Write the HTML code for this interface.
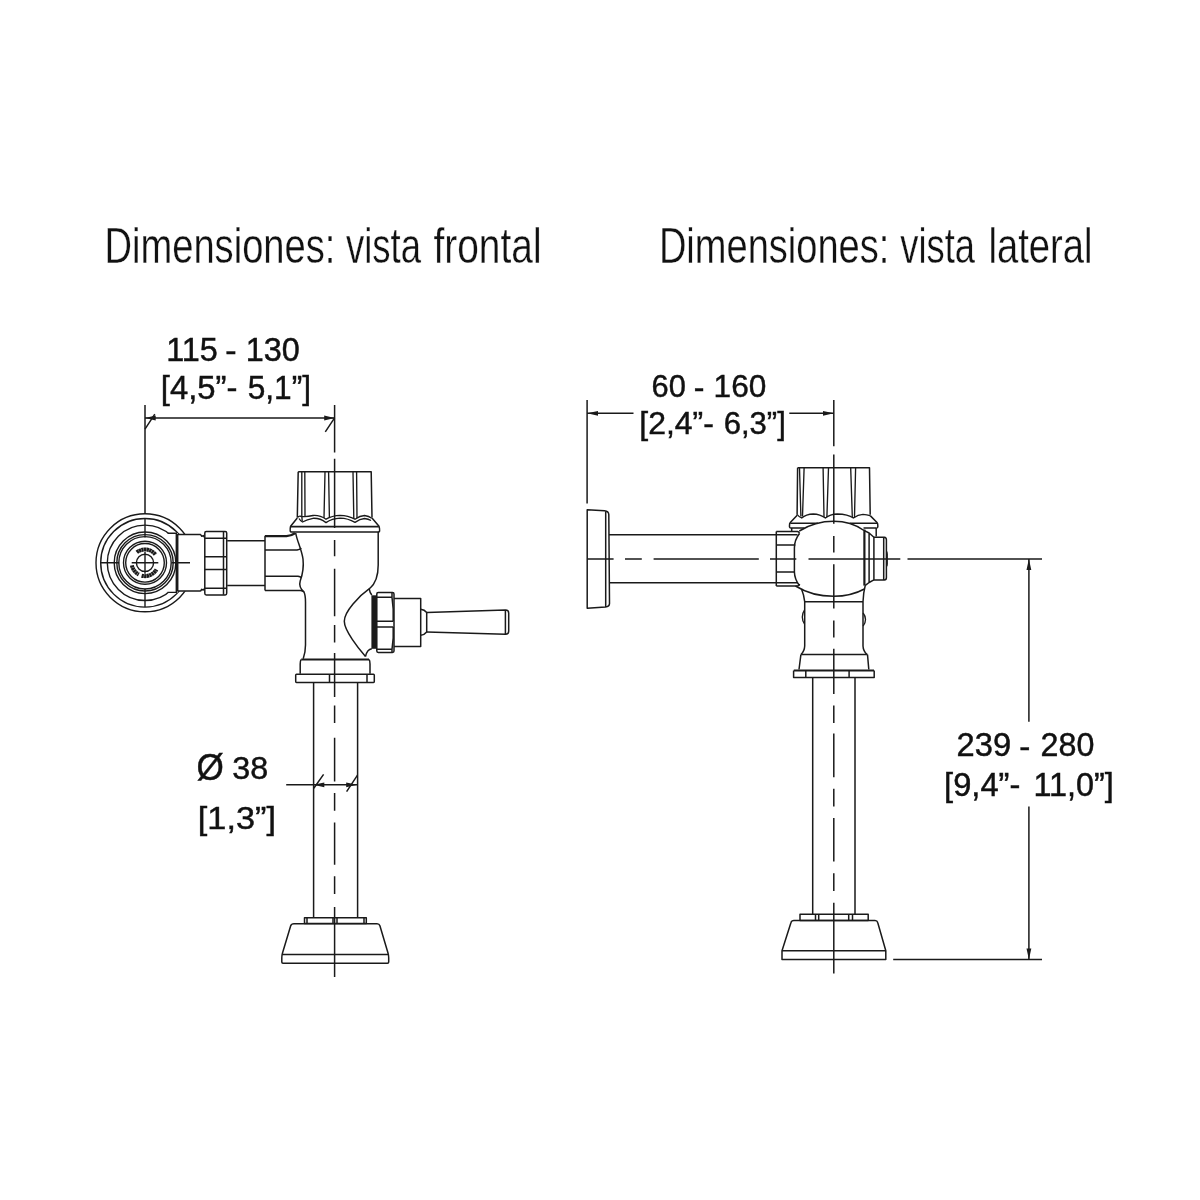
<!DOCTYPE html>
<html lang="es">
<head>
<meta charset="utf-8">
<title>Dimensiones: vista frontal y lateral</title>
<style>
html,body{margin:0;padding:0;background:#fff;}
body{width:1200px;height:1200px;overflow:hidden;font-family:"Liberation Sans",sans-serif;}
svg{display:block;position:absolute;left:0;top:0;will-change:transform;}
.t{font-family:"Liberation Sans",sans-serif;fill:#111;stroke:#fff;stroke-width:0.35px;}
.d{font-family:"Liberation Sans",sans-serif;fill:#111;stroke:#111;stroke-width:0.45px;}
.l{fill:none;stroke:#1a1a1a;stroke-width:1.5;stroke-linecap:butt;stroke-linejoin:round;}
.w{fill:#fff;stroke:#1a1a1a;stroke-width:1.5;stroke-linejoin:round;}
.k{fill:#1a1a1a;stroke:none;}
.c{fill:none;stroke:#1a1a1a;stroke-width:1.4;}
</style>
</head>
<body>
<svg width="1200" height="1200" viewBox="0 0 1200 1200">
<rect x="0" y="0" width="1200" height="1200" fill="#ffffff"/>

<!-- TITLES -->
<g id="titles">
<g><text class="t" font-size="50.4" transform="translate(104.47 263.00) scale(0.7565 1)">Dimensiones: </text><text class="t" font-size="50.4" transform="translate(345.89 263.00) scale(0.7247 1)">vista </text><text class="t" font-size="50.4" transform="translate(433.46 263.00) scale(0.7720 1)">frontal</text></g>
<g><text class="t" font-size="50.4" transform="translate(658.88 263.00) scale(0.7552 1)">Dimensiones: </text><text class="t" font-size="50.4" transform="translate(900.29 263.00) scale(0.7208 1)">vista </text><text class="t" font-size="50.4" transform="translate(988.44 263.00) scale(0.7584 1)">lateral</text></g>
<g><text class="d" font-size="32.4" transform="translate(166.17 360.75) scale(1.0000 1)">115 </text><text class="d" font-size="32.4" transform="translate(225.13 361.50) scale(1.0519 1)">- </text><text class="d" font-size="32.4" transform="translate(245.71 360.75) scale(1.0000 1)">130</text></g>
<g><text class="d" font-size="32.4" transform="translate(160.79 398.75) scale(1.0140 1)">[4,5”- </text><text class="d" font-size="32.4" transform="translate(247.71 398.75) scale(0.9765 1)">5,1”]</text></g>
<g><text class="d" font-size="31.6" transform="translate(651.57 396.70) scale(0.9760 1)">60 </text><text class="d" font-size="31.6" transform="translate(693.82 398.10) scale(1.0139 1)">- </text><text class="d" font-size="31.6" transform="translate(713.57 396.70) scale(1.0000 1)">160</text></g>
<g><text class="d" font-size="31.6" transform="translate(639.25 433.70) scale(1.0118 1)">[2,4”- </text><text class="d" font-size="31.6" transform="translate(723.65 433.70) scale(0.9841 1)">6,3”]</text></g>
<g><text class="d" font-size="32.4" transform="translate(956.59 756.10) scale(1.0085 1)">239 </text><text class="d" font-size="32.4" transform="translate(1019.36 758.10) scale(1.0267 1)">- </text><text class="d" font-size="32.4" transform="translate(1040.61 756.10) scale(0.9953 1)">280</text></g>
<g><text class="d" font-size="32.4" transform="translate(944.11 795.50) scale(1.0077 1)">[9,4”- </text><text class="d" font-size="32.4" transform="translate(1033.43 795.50) scale(1.0000 1)">11,0”]</text></g>
<g><text class="d" font-size="37.3" transform="translate(196.51 779.50) scale(0.9421 1)">Ø </text><text class="d" font-size="32.1" transform="translate(232.30 778.90) scale(1.0077 1)">38</text></g>
<g><text class="d" font-size="32.1" transform="translate(197.79 828.75) scale(1.0685 1)">[1,3”]</text></g>
</g><!--endtext-->


<!-- FRONT VIEW -->
<g id="front">
<!-- stop valve rings (behind) -->
<circle class="c" cx="145" cy="562.8" r="49"/>
<circle class="c" cx="145" cy="562.8" r="44.3"/>
<circle class="c" cx="145" cy="562.8" r="37.7"/>
<path d="M167.6 533.3H178V592.4H167.6Z" fill="#fff"/>
<path class="c" d="M167.6 533.3H176.3V592.4H167.6"/>
<path d="M177.7 534.5H204.5V591.2H177.7Z" fill="#fff"/>
<path class="l" d="M200.6 534.6L201.8 536.3L203.2 535.6L204.7 537.4M200.6 591L201.8 589.3L203.2 590L204.7 588.4M200.8 534.6H177.7V591H200.8"/>
<circle class="c" cx="145" cy="562.8" r="30.8"/>
<circle class="c" cx="145" cy="562.8" r="28.2"/>
<circle class="c" cx="145" cy="562.8" r="26.2"/>
<circle class="c" cx="145" cy="562.8" r="21.5"/>
<circle class="c" cx="145" cy="562.8" r="19.3"/>
<circle class="c" cx="145" cy="562.8" r="8.6"/>
<path d="M136.8 552.3A13.3 13.3 0 0 1 155.5 554.6" fill="none" stroke="#1a1a1a" stroke-width="4" stroke-dasharray="2.3 0.3"/>
<path d="M131.9 565.3A13.3 13.3 0 0 0 138.8 574.5M141.6 575.7A13.3 13.3 0 0 0 156.5 569.5" fill="none" stroke="#1a1a1a" stroke-width="4" stroke-dasharray="2.3 0.3"/>
<path class="c" d="M145 518.8V537.5M145 552V573.7M145 588.7V607M100.8 562.8H119.2M131.7 562.8H158.3M171.7 562.8H190"/>
<!-- nut on supply -->
<path class="w" d="M206.2 531.4H225.2Q226.7 531.4 226.7 533V593.3Q226.7 594.9 225.2 594.9H206.2Q204.8 594.9 204.8 593.3V533Q204.8 531.4 206.2 531.4Z"/>
<path class="l" d="M204.8 538.3H226.7M204.8 556.8H226.7M204.8 569.5H226.7M204.8 588.3H226.7M223.5 531.6V594.7"/>
<!-- supply pipe -->
<path class="l" d="M227.2 540.8H265M227.2 585.5H265"/>
<!-- inlet boss -->
<path class="l" d="M265 535.7V590.5M265 590.5H300.5Q302.5 590.8 304 592"/>
<path class="l" style="stroke-width:2.4" d="M265 536.1H286.5Q291 535.8 295 533.2"/>
<path class="l" d="M265 550.1H297Q299.8 549.7 301.3 548M265 576.3H298Q300.2 576.6 301.5 577.8"/>
<!-- cap -->
<path class="l" d="M298.2 471.8H371.2L372 517.5M298.2 471.8L297.3 517.5"/>
<path class="l" style="stroke-width:1.35" d="M301.8 472V515.5L302.2 521M304.8 472L305 516M325 472L324 518M328.6 472L329.4 518M353 472L353.8 518.5M356.6 472L357 518"/>
<path class="l" style="stroke-width:1.35" d="M297.5 517.5Q299 515.5 301.5 516.5Q307 517 313 515.5Q320 515 326 519.2Q332 515.6 340 515.3Q348 515.3 355 519.2Q360 515.8 364.5 515.5Q369 516 371.8 518.2"/>
<path class="l" style="stroke-width:1.35" d="M299 518.5Q300.5 521 302.5 522Q307 519.5 313 518.3Q320 518 326 522.6Q332 518.4 340 518.1Q348 518.2 355 522.4Q360 518.8 364.5 518.5Q368.5 519 371 520.5"/>
<!-- collar -->
<path class="l" d="M297.3 518L290.6 526.3Q290 528.5 290.2 531Q290.4 532 291.5 532H378.2Q379.4 532 379.6 531Q379.8 528.5 379 526.3L372 518"/>
<path class="l" style="stroke-width:1.9" d="M290.8 526.6H378.8"/>
<!-- body -->
<path class="l" d="M295.7 533C297 541 301.5 549 303 559C304 568 302 576 300.2 581C299 585 300 588.5 304 592C305.3 595 305.5 598 305.5 602V645C305.5 651 304.5 655 303.2 658.7"/>
<path class="l" d="M378.2 532V565C378.2 574 376 583 370 588.2"/>
<path class="l" d="M370 588.2C359 596 344.3 611.5 344.3 621.2C344.3 630.5 358.5 648.5 365.5 656.5"/>
<path class="l" d="M369.2 588.8Q369.8 592.5 371.8 595M371.8 648.8Q367 649.5 365.5 656.5"/>
<!-- lower flange -->
<path class="l" style="stroke-width:2" d="M301.2 659.6H369"/>
<path class="l" d="M301 659.5Q300.2 661 300.2 664V673.8M369.2 659.5Q370 661 370 664V673.8"/>
<path class="l" d="M296.5 674.3H373.5Q374.3 674.3 374.3 675.2V681.6Q374.3 682.4 373.5 682.4H296.5Q295.7 682.4 295.7 681.6V675.2Q295.7 674.3 296.5 674.3ZM329.5 674.5V682.3M367 674.5V682.3"/>
<!-- pipe -->
<path class="l" d="M313.6 682.4V917.7M357.6 682.4V917.7"/>
<!-- bottom nut + base -->
<path class="l" d="M304.5 917.7H366.3V923.6H304.5ZM307 917.7V923.6M333 917.7V923.6M337 917.7V923.6M364 917.7V923.6"/>
<path class="l" d="M294 923.8H377Q379.3 923.8 379.9 925.8L388 953Q388.7 955.5 388.7 958V962Q388.7 963.2 387.5 963.2H283Q281.8 963.2 281.8 962V958Q281.8 955.5 282.5 953L290.7 925.8Q291.3 923.8 294 923.8ZM282.3 954.6H388.2"/>
<!-- handle -->
<path class="k" d="M371.4 595.3H376.8V648.8H371.4Z"/>
<path class="l" d="M378.2 592.4H392.5Q394 592.4 394 594V651Q394 652.4 392.5 652.4H378.2Q376.8 652.4 376.8 651V594Q376.8 592.4 378.2 592.4Z"/>
<path class="l" d="M376.8 597.3H392M376.8 621.3H393.2M376.8 627H393.2M376.8 649.3H392M392 597.3Q393.8 609 393.2 621.3M393.2 627Q393.8 639 392 649.3M392 593V597.3M392 649.3V652"/>
<path class="l" d="M394 598.4H420.7V646.4H394"/>
<path class="l" d="M420.7 609.3Q424.5 609.8 426.7 612.4V632Q424.5 634.8 420.7 635.3"/>
<path class="l" d="M426.7 612.4L505.5 610Q508.7 610 508.7 613V631.3Q508.7 634.3 505.5 634.3L426.7 632M505.4 610.2V634.2"/>
<!-- dimension 115-130 -->
<path class="l" d="M145 405V513.6M145 417.9H334.6"/>
<path class="k" d="M145 417.9L155.7 415.4V420.4Z"/>
<path class="k" d="M334.6 417.9L324.2 415.4V420.4Z"/>
<path class="l" d="M154.8 414.2L145 429.2M334.6 417.8L325.3 431.8"/>
<!-- dimension dia 38 -->
<path class="l" d="M286.2 784.8H357.4"/>
<path class="k" d="M313.3 784.8L324.3 782.4V787.2Z"/>
<path class="k" d="M357.4 784.8L346.2 782.4V787.2Z"/>
<path class="l" d="M323.6 774.4L313.8 788.2M357.5 775.2L346.6 791.6"/>
<!-- centerline -->
<path class="l" d="M334.6 405V452.5M334.6 458.8V528M334.6 540V556.3M334.6 568.8V616.3M334.6 625V642.5M334.6 653V697M334.6 705.6V723M334.6 737.7V781.5M334.6 793V810.7M334.6 822.4V864.7M334.6 876.3V894M334.6 907V977"/>
</g>

<!-- SIDE VIEW -->
<g id="side">
<!-- wall flange -->
<path class="l" d="M587.2 509.8L604.5 510.7Q608.6 511 608.8 514.5L609.5 603.5Q609.5 606.6 605.5 606.9L587.2 608.3ZM605.7 510.9V606.8"/>
<!-- pipe -->
<path class="l" d="M609 534.8H776.3M609.4 582.8H776.3"/>
<!-- inlet boss -->
<path class="l" d="M776.3 531.5H797.5Q799.3 531.8 799.5 533.5M776.3 531.5V586M776.3 586H797.5Q799.3 585.6 799.6 584M776.3 534.8H797.5M776.3 582.8H797.5M776.3 545H795.3M776.3 572H795"/>
<!-- cap -->
<path class="l" d="M797.6 467.8H869.5L870.2 514.8M797.6 467.8L797.1 514.8"/>
<path class="l" style="stroke-width:1.35" d="M799.5 468L800.9 516.5M804.1 468L802.5 516.5M823.1 468L824 517M828.5 468L826.9 517M850.7 468L852.3 517M855.6 468L854.5 517"/>
<path class="l" style="stroke-width:1.35" d="M797.2 514.5Q798.5 516.5 801.7 518Q806 514.2 813.3 514Q820 514.2 825.4 518Q830 514.2 837.2 514Q848 514.2 853.4 518Q858 514.5 863 514.3Q867 514.5 870.1 515.6"/>
<!-- collar -->
<path class="l" d="M797.2 515.2L790.3 522.5Q789.4 523.5 789.5 525.5V527Q789.6 528.1 791 528.1M870.2 515.6L877 522.5Q877.9 523.5 877.8 525.5V527Q877.7 528.1 876.3 528.1"/>
<path class="l" d="M790.3 523.3H818M849.8 523.3H877M791 528.1H804.5M863.5 528.1H876.3M791.7 528.1V531.5M876.2 528.1V536.5"/>
<!-- ball body -->
<path class="l" d="M799.3 531Q815 521.3 833.7 521.3Q851 521.3 864 530.5"/>
<path class="l" d="M799.5 533.5Q794.4 540 794.4 548V572Q794.6 579 799.3 585.5"/>
<path class="l" d="M795.5 586Q812 596.3 833.7 596.3Q851 596.3 864.4 589"/>
<path class="l" style="stroke-width:2.2" d="M864.4 529.5V585.6"/>
<path class="l" d="M869.1 533V582.5M864.4 530.6L869.1 533L873.9 537.3M873.9 579.9L869.1 582.5L865 585.6"/>
<path class="l" d="M873.9 537.2H884.4Q886.4 537.3 886.4 539.8V577.5Q886.4 580 884.4 580H873.9ZM883.7 537.8V579.5"/>
<path class="k" d="M886.3 550.4Q887.9 551.2 887.9 554V564Q887.9 566.8 886.3 567.6Z"/>
<!-- neck -->
<path class="l" d="M801.5 589Q804 595 804.7 601.7V646Q804.5 651 801 654.6M865.2 585.6Q863.3 593 863 601.7V646Q863.2 651 867 654.6M804.7 601.7H863"/>
<path class="l" style="stroke-width:1.35" d="M804.6 609.8Q802.3 613 802.3 617Q802.3 621 804.6 624M863.1 613Q865.5 616 865.5 619.5Q865.5 623 863.1 626"/>
<!-- lower flange -->
<path class="l" d="M800.9 654.6H867.5M800.9 654.6L799 669.5M867.5 654.6L868.8 669.5"/>
<path class="l" style="stroke-width:1.9" d="M793.8 670.5H874"/>
<path class="l" d="M793.6 670.5V677.6H874.2V670.5M805.8 670.5V677.6M849.1 670.5V677.6"/>
<!-- pipe -->
<path class="l" d="M812.7 677.6V914.3M855 677.6V914.3"/>
<!-- bottom nut + base -->
<path class="l" d="M800 914.3H868.2V920.5H800ZM815.5 914.3V920.5M818.7 914.3V920.5M848.7 914.3V920.5M852.5 914.3V920.5"/>
<path class="l" d="M794 920.5H875Q877.2 920.5 877.7 922.5L885.8 950.8V959.5H782V950.8L791 922.5Q791.5 920.5 794 920.5ZM782 950.8H885.8"/>
<!-- dimension 60-160 -->
<path class="l" d="M587.1 400V503.5M587.1 413.3H633.5M789.3 413.3H833.8"/>
<path class="k" d="M587.1 413.3L598 410.9V415.7Z"/>
<path class="k" d="M833.8 413.3L823 410.9V415.7Z"/>
<!-- dimension 239-280 -->
<path class="l" d="M907.5 559.1H1042M893.2 959.5H1042M1028.9 559.1V721.8M1028.9 806.6V959.5"/>
<path class="k" d="M1028.9 559.1L1026.5 570H1031.3Z"/>
<path class="k" d="M1028.9 959.5L1026.5 948.6H1031.3Z"/>
<!-- centerlines -->
<path class="l" d="M587.2 559H613.6M625 559H641.8M653.6 559H758.8M770 559H796.3M808.5 559H900.3"/>
<path class="l" d="M833.8 400V446.3M833.8 454.5V523.8M833.8 536V552.5M833.8 564.3V608.6M833.8 620.5V637.4M833.8 648.8V694M833.8 705.5V723M833.8 733.4V777.2M833.8 788.7V806.4M833.8 818.1V861.5M833.8 873.3V891M833.8 902.8V973.6"/>
</g>

</svg>
</body>
</html>
